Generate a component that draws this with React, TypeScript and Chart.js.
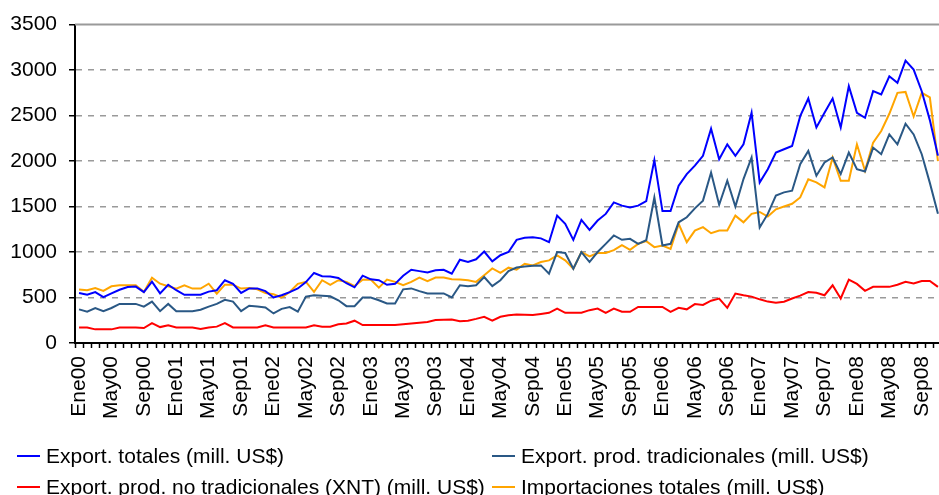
import React, { useEffect, useRef } from "react";
import { Chart, registerables } from "chart.js";

Chart.register(...registerables);

const MONTHS = ["Ene", "Feb", "Mar", "Abr", "May", "Jun", "Jul", "Ago", "Sep", "Oct", "Nov", "Dic"];
const YEARS = ["00", "01", "02", "03", "04", "05", "06", "07", "08"];
const N_POINTS = 107; // Ene00 .. Nov08
const CATEGORIES = YEARS.flatMap((y) => MONTHS.map((m) => m + y)).slice(0, N_POINTS);
const LABEL_EVERY = 4;

const Y_MIN = 0;
const Y_MAX = 3500;
const Y_STEP = 500;

// Export. totales (mill. US$)
const EXPORT_TOTALES = [
  550, 530, 560, 505, 545, 585, 615, 620, 560, 675, 545, 640,
  580, 530, 530, 530, 565, 580, 690, 650, 550, 600, 600, 570,
  500, 525, 560, 600, 670, 770, 735, 730, 715, 657, 612, 740,
  700, 690, 640, 650, 740, 805, 790, 775, 800, 805, 762, 915,
  890, 920, 1005, 897, 965, 1000, 1134, 1156, 1163, 1150, 1108, 1400,
  1310, 1134, 1353, 1244, 1346, 1419, 1546, 1510, 1490, 1510, 1560, 2010,
  1450, 1450, 1730, 1856, 1950, 2057, 2356, 2020, 2184, 2057, 2184, 2531,
  1765, 1911, 2093, 2130, 2166, 2494, 2688, 2370, 2531, 2688, 2370, 2823,
  2531, 2476, 2768, 2732, 2932, 2860, 3104, 3006, 2768, 2450, 2060,
];

// Export. prod. tradicionales (mill. US$)
const EXPORT_TRADICIONALES = [
  370, 345, 385, 350, 385, 430, 430, 430, 400, 455, 350, 430,
  350, 350, 350, 365, 400, 430, 475, 455, 350, 410, 400, 390,
  325, 375, 395, 345, 510, 525, 520, 514, 470, 405, 405, 500,
  500, 470, 435, 435, 590, 600, 570, 545, 545, 545, 500, 635,
  625, 635, 725, 625, 690, 790, 830, 842, 848, 853, 762, 1000,
  990, 817, 1000, 890, 1000, 1090, 1182, 1134, 1145, 1090, 1130, 1600,
  1072, 1090, 1327, 1382, 1480, 1565, 1874, 1520, 1784, 1500, 1802, 2039,
  1270, 1419, 1620, 1656, 1674, 1966, 2111, 1839, 1984, 2039, 1857, 2093,
  1911, 1886, 2148, 2075, 2293, 2184, 2410, 2293, 2075, 1760, 1420,
];

// Export. prod. no tradicionales (XNT) (mill. US$)
const EXPORT_NO_TRADICIONALES = [
  171, 171, 150, 150, 150, 171, 171, 171, 165, 218, 175, 196,
  171, 171, 171, 155, 171, 180, 218, 171, 171, 171, 171, 196,
  171, 171, 171, 171, 171, 196, 180, 180, 205, 214, 245, 197,
  197, 197, 197, 197, 205, 214, 223, 230, 252, 255, 258, 240,
  245, 265, 288, 245, 288, 305, 314, 310, 307, 320, 332, 379,
  332, 332, 332, 361, 379, 332, 379, 343, 343, 397, 397, 397,
  397, 343, 387, 370, 428, 418, 465, 489, 387, 544, 525, 510,
  480, 455, 443, 453, 489, 520, 560, 552, 525, 634, 489, 697,
  650, 573, 617, 617, 617, 640, 672, 655, 682, 682, 617,
];

// Importaciones totales (mill. US$)
const IMPORTACIONES_TOTALES = [
  587, 580, 605, 572, 623, 634, 634, 634, 562, 718, 652, 623,
  598, 634, 598, 598, 652, 543, 641, 641, 598, 605, 590, 550,
  536, 500, 560, 650, 672, 562, 690, 640, 690, 672, 626, 695,
  697, 609, 697, 672, 635, 672, 720, 680, 720, 720, 700, 697,
  690, 672, 745, 820, 770, 828, 806, 871, 853, 890, 908, 962,
  908, 817, 1000, 952, 988, 990, 1020, 1075, 1024, 1090, 1120, 1054,
  1072, 1035, 1310, 1109, 1236, 1273, 1207, 1236, 1236, 1400, 1327, 1420,
  1440, 1390, 1470, 1500, 1530, 1600, 1800, 1766, 1711, 2039, 1784, 1784,
  2184, 1893, 2203, 2330, 2520, 2750, 2760, 2490, 2750, 2700, 2000,
];

const SERIES_LABELS = [
  "Export. totales (mill. US$)",
  "Export. prod. tradicionales (mill. US$)",
  "Export. prod. no tradicionales (XNT) (mill. US$)",
  "Importaciones totales (mill. US$)",
];
const SERIES_COLORS = ["#0000FF", "#2A5885", "#FF0000", "#FFA500"];
const SERIES_DATA = [EXPORT_TOTALES, EXPORT_TRADICIONALES, EXPORT_NO_TRADICIONALES, IMPORTACIONES_TOTALES];

const FONT = "'Liberation Sans', Arial, Helvetica, sans-serif";
const CANVAS_W = 945;
const CANVAS_H = 495;

const topBorder = {
  id: "topBorder",
  beforeDatasetsDraw(chart: any) {
    const { ctx, chartArea } = chart;
    ctx.save();
    ctx.strokeStyle = "#9a9a9a";
    ctx.lineWidth = 2;
    ctx.beginPath();
    ctx.moveTo(chartArea.left, chartArea.top);
    ctx.lineTo(chartArea.right, chartArea.top);
    ctx.stroke();
    ctx.restore();
  },
};

export default function App() {
  const canvasRef = useRef<HTMLCanvasElement | null>(null);

  useEffect(() => {
    if (!canvasRef.current) return;
    const chart = new Chart(canvasRef.current, {
      type: "line",
      data: {
        labels: CATEGORIES,
        datasets: SERIES_DATA.map((d, k) => ({
          label: SERIES_LABELS[k],
          data: d,
          borderColor: SERIES_COLORS[k],
          backgroundColor: SERIES_COLORS[k],
          borderWidth: 2,
          pointRadius: 0,
          tension: 0,
          fill: false,
        })),
      },
      options: {
        animation: false,
        responsive: false,
        maintainAspectRatio: false,
        layout: { padding: { left: 0, right: 3, top: 23, bottom: 0 } },
        plugins: { legend: { display: false }, tooltip: { enabled: false } },
        scales: {
          x: {
            type: "category",
            offset: true,
            grid: {
              offset: true,
              drawOnChartArea: false,
              drawTicks: true,
              tickLength: 5,
              tickColor: "#000",
              tickWidth: 1.5,
            },
            border: { display: true, color: "#000", width: 2 },
            ticks: {
              autoSkip: false,
              maxRotation: 90,
              minRotation: 90,
              padding: 8,
              color: "#000",
              font: { family: FONT, size: 21 },
              callback: (_v: any, i: number) => (i % LABEL_EVERY === 0 ? CATEGORIES[i] : ""),
            },
            afterFit: (s: any) => {
              s.height = 152;
              s.paddingLeft = 0;
              s.paddingRight = 0;
            },
          },
          y: {
            min: Y_MIN,
            max: Y_MAX,
            ticks: {
              stepSize: Y_STEP,
              padding: 12,
              color: "#000",
              font: { family: FONT, size: 21 },
              callback: (v: any) => String(v),
            },
            grid: {
              color: (c: any) =>
                c.tick && (c.tick.value === Y_MIN || c.tick.value === Y_MAX) ? "rgba(0,0,0,0)" : "#9a9a9a",
              lineWidth: 1.5,
              tickColor: "#000",
              tickLength: 6,
              tickWidth: 1.5,
            },
            border: { display: true, color: "#000", width: 2, dash: [6, 6] },
            afterFit: (s: any) => {
              s.width = 75;
            },
          },
        },
      } as any,
      plugins: [topBorder],
    });
    return () => chart.destroy();
  }, []);

  const legendPos = [
    { x: 17, y: 456 },
    { x: 492, y: 456 },
    { x: 17, y: 487 },
    { x: 492, y: 487 },
  ];

  return (
    <div
      style={{
        position: "fixed",
        left: 0,
        top: 0,
        width: 939,
        height: 495,
        overflow: "hidden",
        background: "#fff",
      }}
    >
      <canvas
        ref={canvasRef}
        width={CANVAS_W}
        height={CANVAS_H}
        style={{ display: "block", width: CANVAS_W, height: CANVAS_H }}
      />
      {SERIES_LABELS.map((lab, k) => (
        <React.Fragment key={k}>
          <div
            style={{
              position: "absolute",
              left: legendPos[k].x,
              top: legendPos[k].y - 1,
              width: 23,
              height: 2,
              background: SERIES_COLORS[k],
            }}
          />
          <div
            style={{
              position: "absolute",
              left: legendPos[k].x + 29,
              top: legendPos[k].y - 12,
              fontFamily: FONT,
              fontSize: 21,
              lineHeight: "24px",
              color: "#000",
              whiteSpace: "nowrap",
            }}
          >
            {lab}
          </div>
        </React.Fragment>
      ))}
    </div>
  );
}
